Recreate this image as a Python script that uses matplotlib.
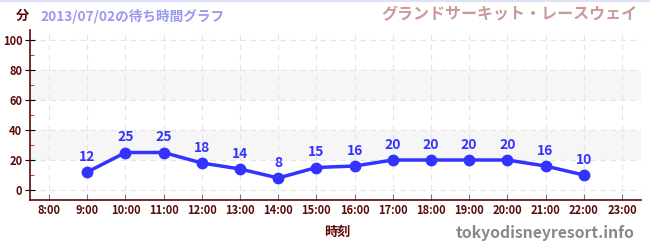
import matplotlib.pyplot as plt
from matplotlib.ticker import MultipleLocator

plt.rcParams['font.family'] = ['Noto Sans CJK JP', 'DejaVu Sans']

hours = [9, 10, 11, 12, 13, 14, 15, 16, 17, 18, 19, 20, 21, 22]
waits = [12, 25, 25, 18, 14, 8, 15, 16, 20, 20, 20, 20, 16, 10]
xticks = list(range(8, 24))
xlabels = ['%d:00' % h for h in xticks]
yticks = [0, 20, 40, 60, 80, 100]

maroon = '#5a0a0a'
blue = '#3333ff'

fig = plt.figure(figsize=(6.5, 2.5), dpi=100)
ax = fig.add_axes([30 / 650, 50 / 250, 611 / 650, 170 / 250])

ax.set_xlim(7.5, 23.5)
ax.set_ylim(-6.67, 106.7)

# alternating bands
for lo, hi in [(20, 40), (60, 80)]:
    ax.axhspan(lo, hi, color='#f6f6f6', zorder=0, lw=0)

ax.set_xticks(xticks)
ax.set_xticklabels(xlabels)
ax.set_yticks(yticks)
ax.yaxis.set_minor_locator(MultipleLocator(10))
ax.grid(True, which='major', color='#e4e4e4', ls=(0, (5, 4)), lw=0.8, zorder=1)

ax.plot(hours, waits, color=blue, lw=2.5, marker='o', ms=7.5, zorder=3)
for h, w in zip(hours, waits):
    ax.annotate(str(w), (h, w), xytext=(0, 6), textcoords='offset points',
                ha='center', va='bottom', color=blue, fontsize=10,
                fontweight='bold')

for s in ['top', 'right']:
    ax.spines[s].set_visible(False)
ax.spines['left'].set_color(maroon)
ax.spines['bottom'].set_color(maroon)
ax.spines['left'].set_linewidth(1.2)
ax.spines['bottom'].set_linewidth(1.2)

ax.tick_params(axis='x', direction='in', length=4, color='#777777',
               labelcolor=maroon, labelsize=8, pad=3)
ax.tick_params(axis='y', which='major', direction='inout', length=7,
               color='black', labelcolor=maroon, labelsize=8, pad=2)
ax.tick_params(axis='y', which='minor', direction='in', length=3,
               color='#dd0000')
for lab in ax.get_xticklabels() + ax.get_yticklabels():
    lab.set_fontweight('bold')

fig.text(16 / 650, 1 - 16 / 250, '分', color=maroon, fontsize=9.5,
         fontweight='bold', va='center', ha='left')
fig.text(40 / 650, 1 - 16 / 250, '2013/07/02の待ち時間グラフ', color='#9999ee',
         fontsize=9.8, fontweight='bold', va='center', ha='left')
fig.text(637 / 650, 1 - 14 / 250, 'グランドサーキット・レースウェイ', color='#cc9999',
         fontsize=11.5, fontweight='bold', va='center', ha='right')
fig.text(337 / 650, 1 - 232 / 250, '時刻', color=maroon, fontsize=9.5,
         fontweight='bold', va='center', ha='center')
fig.text(634 / 650, 1 - 233 / 250, 'tokyodisneyresort.info', color='#888888',
         fontsize=11.3, fontweight='bold', va='center', ha='right')

fig.add_artist(plt.Line2D([0, 1], [0.998, 0.998], color='#e0e0f8', lw=1.5))

fig.savefig('out.png', dpi=100)
